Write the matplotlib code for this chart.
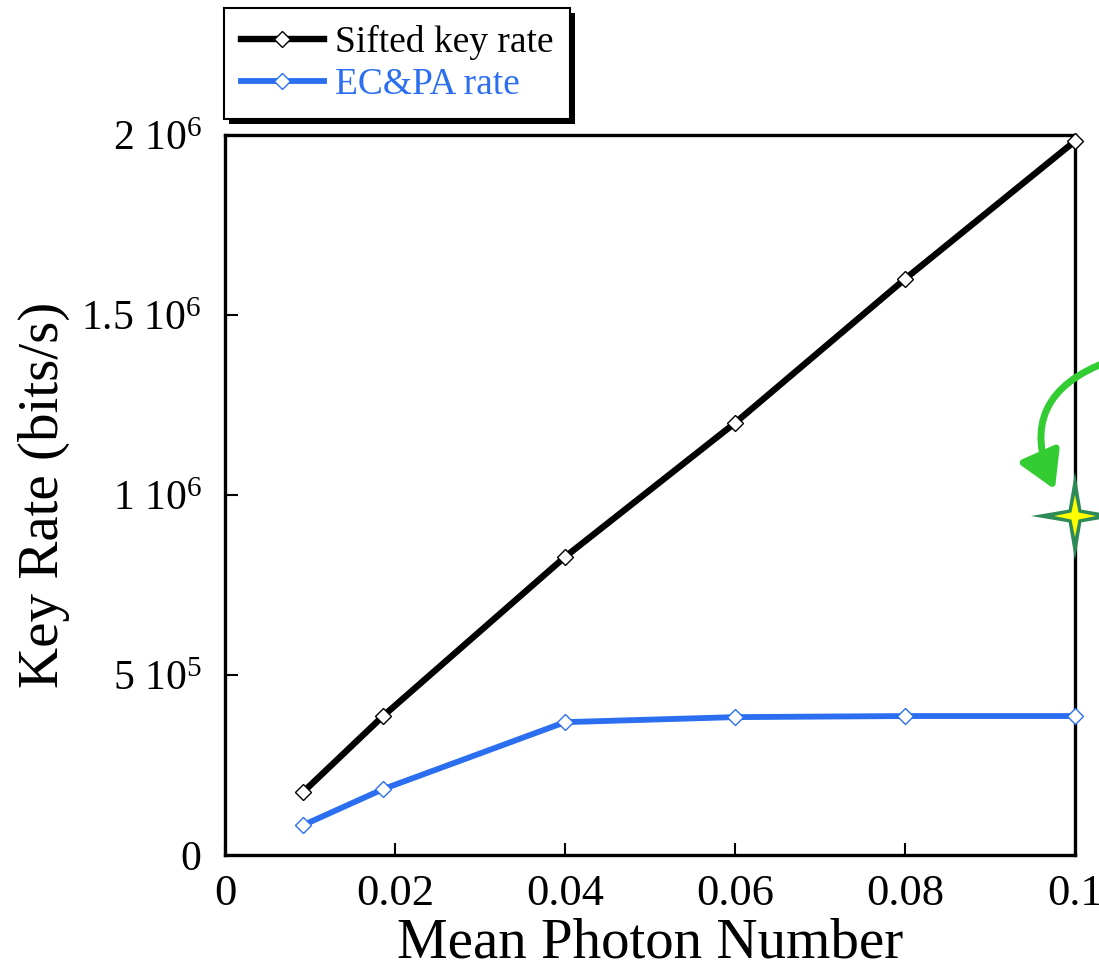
import matplotlib
matplotlib.use("Agg")
import matplotlib.pyplot as plt
from matplotlib.ticker import FixedLocator, FuncFormatter
from matplotlib.patches import Rectangle, Polygon, FancyArrowPatch
from matplotlib.transforms import IdentityTransform
import numpy as np

# ---- data ----
mean_photon = [0.0092, 0.0186, 0.04, 0.06, 0.08, 0.1]
sifted_rate = [1.75e5, 3.86e5, 8.28e5, 1.20e6, 1.60e6, 1.983e6]
ecpa_rate = [0.83e5, 1.83e5, 3.69e5, 3.83e5, 3.86e5, 3.86e5]
x_ticks = [0, 0.02, 0.04, 0.06, 0.08, 0.1]
x_tick_labels = ["0", "0.02", "0.04", "0.06", "0.08", "0.1"]
y_ticks = [0, 5e5, 1e6, 1.5e6, 2e6]
series_names = ["Sifted key rate", "EC&PA rate"]

BLACK = "#000000"
BLUE = "#2B6FF0"
W, H = 1099, 977

plt.rcParams['font.family'] = ['Liberation Serif', 'DejaVu Serif']
plt.rcParams['mathtext.fontset'] = 'custom'
plt.rcParams['mathtext.rm'] = 'Liberation Serif'
plt.rcParams['mathtext.it'] = 'Liberation Serif:italic'

fig = plt.figure(figsize=(W / 100, H / 100), dpi=100)
ax = fig.add_axes([225 / W, 1 - 855 / H, (1075 - 225) / W, (855 - 135) / H])

ax.plot(mean_photon, sifted_rate, color=BLACK, lw=4.6, marker='D', ms=8.5,
        mfc='white', mec=BLACK, mew=1.0, label=series_names[0], zorder=3,
        clip_on=False)
ax.plot(mean_photon, ecpa_rate, color=BLUE, lw=4.2, marker='D', ms=8.5,
        mfc='white', mec=BLUE, mew=1.0, label=series_names[1], zorder=3,
        clip_on=False)

ax.set_xlim(0, 0.1)
ax.set_ylim(0, 2e6)
ax.xaxis.set_major_locator(FixedLocator(x_ticks))
ax.set_xticklabels(x_tick_labels)
ax.yaxis.set_major_locator(FixedLocator(y_ticks))


def yfmt(v, pos):
    if v == 0:
        return "0"
    e = int(np.floor(np.log10(v)))
    m = v / 10 ** e
    ms = ("%g" % m)
    return ms + r" 10$^{%d}$" % e


ax.yaxis.set_major_formatter(FuncFormatter(yfmt))
ax.tick_params(direction='in', length=9, width=1.5, labelsize=32, pad=14,
               top=False, right=False)
ax.tick_params(axis='y', pad=17, labelsize=30)
for s in ax.spines.values():
    s.set_linewidth(2.4)

ax.set_xlabel("Mean Photon Number", fontsize=41, labelpad=2)
ax.set_ylabel("Key Rate (bits/s)", fontsize=41)
ax.yaxis.set_label_coords((70 - 225) / 850, 0.5)

leg = ax.legend(loc='upper left', bbox_to_anchor=(-0.001, 1.0 + 127 / 720),
                frameon=True, fancybox=False, fontsize=27, handlelength=2.2,
                handletextpad=0.3, borderpad=0.45, labelspacing=0.2,
                borderaxespad=0.0)
leg.get_frame().set_edgecolor('black')
leg.get_frame().set_linewidth(1.5)
leg.get_frame().set_alpha(1.0)
leg.get_texts()[1].set_color(BLUE)
leg.set_zorder(6)

fig.canvas.draw()
bb = leg.get_window_extent()
shadow = Rectangle((bb.x0 + 5, bb.y0 - 5), bb.width, bb.height,
                   transform=IdentityTransform(), facecolor='black',
                   edgecolor='none', zorder=5, clip_on=False)
ax.add_patch(shadow)


def fp(px, py):
    return (px / W, 1 - py / H)


# decorative green arrow
arrow = FancyArrowPatch(fp(1112, 360), fp(1056, 492), transform=fig.transFigure,
                        connectionstyle="arc3,rad=0.55",
                        arrowstyle="-|>,head_length=1.1,head_width=0.65",
                        mutation_scale=20, color='#33CC33', lw=5, zorder=6)
fig.add_artist(arrow)


def star(cx, cy, R, r):
    pts = []
    for k in range(8):
        ang = np.pi / 2 + k * np.pi / 4
        rad = R if k % 2 == 0 else r
        pts.append(fp(cx + rad * np.cos(ang), cy - rad * np.sin(ang)))
    return pts


fig.add_artist(Polygon(star(1075, 516, 44, 9), closed=True, transform=fig.transFigure,
                       facecolor='#2E8B57', edgecolor='none', zorder=7))
fig.add_artist(Polygon(star(1075, 516, 21, 5), closed=True, transform=fig.transFigure,
                       facecolor='#FFFF00', edgecolor='none', zorder=8))

fig.savefig("out.png", dpi=100)
